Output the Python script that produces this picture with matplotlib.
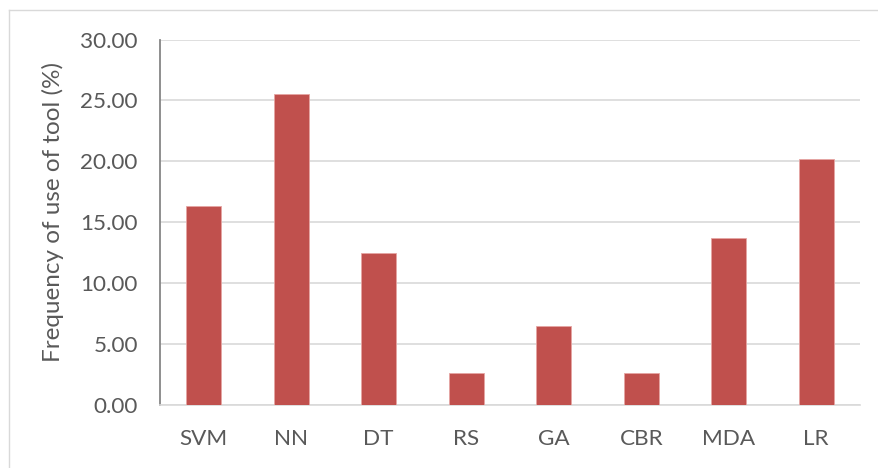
import matplotlib
matplotlib.use("Agg")
import matplotlib.pyplot as plt
from matplotlib.lines import Line2D

categories = ["SVM", "NN", "DT", "RS", "GA", "CBR", "MDA", "LR"]
values = [16.32, 25.49, 12.44, 2.60, 6.51, 2.60, 13.70, 20.23]
yticks = [0, 5, 10, 15, 20, 25, 30]

plt.rcParams['font.family'] = ['Lato', 'DejaVu Sans']

W, H = 879, 468
fig = plt.figure(figsize=(W/100, H/100), dpi=100)
ax = fig.add_axes([160/W, (H-405)/H, 700/W, (405-39.5)/H])

x = list(range(len(categories)))
ax.bar(x, values, width=0.4, color="#C0504D", edgecolor="#E6A5A3", linewidth=0.6, zorder=3)
ax.set_xlim(-0.5, len(categories)-0.5)
ax.set_ylim(0, 30)
ax.set_yticks(yticks)
ax.set_yticklabels([f"{v:.2f}" for v in yticks])
ax.set_xticks(x)
ax.set_xticklabels(categories)
ax.yaxis.grid(True, color="#D9D9D9", linewidth=1.2, zorder=0)
ax.set_axisbelow(True)
for s in ["top", "right"]:
    ax.spines[s].set_visible(False)
ax.spines["left"].set_color("#868686")
ax.spines["left"].set_linewidth(1.3)
ax.spines["bottom"].set_color("#D9D9D9")
ax.spines["bottom"].set_linewidth(1.2)
ax.tick_params(axis="both", length=0, labelsize=16.2, colors="#595959")
ax.tick_params(axis="y", pad=16)
ax.tick_params(axis="x", pad=17)
ax.set_ylabel("Frequency of use of tool (%)", fontsize=17.5, color="#595959")
ax.yaxis.set_label_coords(-0.137, 0.528)

# outer chart frame (top and left visible)
fig.add_artist(Line2D([9/W, 9/W], [0, (H-10)/H], transform=fig.transFigure, color="#D9D9D9", linewidth=1))
fig.add_artist(Line2D([9/W, 1], [(H-10)/H, (H-10)/H], transform=fig.transFigure, color="#D9D9D9", linewidth=1))

fig.savefig("out.png", dpi=100)
